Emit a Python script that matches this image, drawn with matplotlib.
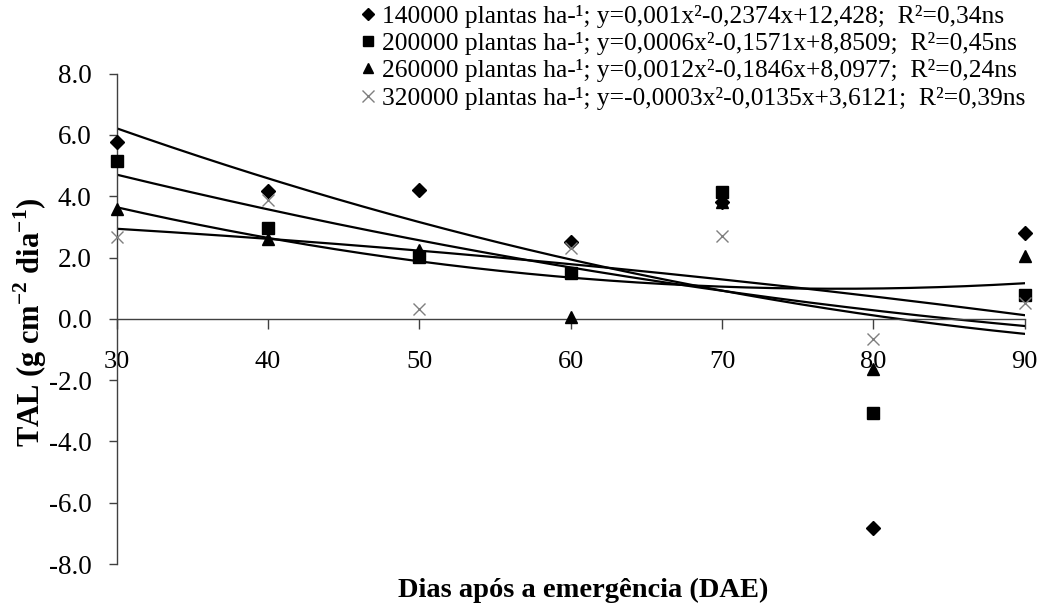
import numpy as np
import matplotlib
matplotlib.use("Agg")
import matplotlib.pyplot as plt
from matplotlib.lines import Line2D

plt.rcParams['font.family'] = ['Liberation Serif', 'DejaVu Serif']
plt.rcParams['mathtext.fontset'] = 'custom'
plt.rcParams['mathtext.rm'] = 'Liberation Serif'
plt.rcParams['mathtext.bf'] = 'Liberation Serif:bold'

# Data
dae = [30, 40, 50, 60, 70, 80, 90]
tal_140 = [5.76, 4.18, 4.21, 2.50, 3.82, -6.82, 2.79]
tal_200 = [5.15, 2.96, 2.03, 1.49, 4.13, -3.06, 0.78]
tal_260 = [3.59, 2.61, 2.25, 0.05, 3.80, -1.64, 2.05]
tal_320 = [2.66, 3.88, 0.32, 2.30, 2.69, -0.66, 0.51]

labels = [
    "140000 plantas ha-¹; y=0,001x²-0,2374x+12,428;  R²=0,34ns",
    "200000 plantas ha-¹; y=0,0006x²-0,1571x+8,8509;  R²=0,45ns",
    "260000 plantas ha-¹; y=0,0012x²-0,1846x+8,0977;  R²=0,24ns",
    "320000 plantas ha-¹; y=-0,0003x²-0,0135x+3,6121;  R²=0,39ns",
]
y_ticks = [-8, -6, -4, -2, 0, 2, 4, 6, 8]
x_ticks = [30, 40, 50, 60, 70, 80, 90]

series = [tal_140, tal_200, tal_260, tal_320]
markers = ['D', 's', '^', 'x']
msizes = [7, 9, 9, 9]
mcolors = ['black', 'black', 'black', '#7f7f7f']

fig = plt.figure(figsize=(10.39, 6.04), dpi=100)
ax = fig.add_axes([116.7/1039, 1-564/604, (1024.7-116.7)/1039, (564-73.7)/604])

xs = np.linspace(30, 90, 200)
handles = []
for ys in series:
    coef = np.polyfit(dae, ys, 2)
    ax.plot(xs, np.polyval(coef, xs), color='black', lw=1.6, zorder=2)
for ys, m, ms, c in zip(series, markers, msizes, mcolors):
    if m == 'x':
        ax.plot(dae, ys, linestyle='none', marker=m, ms=ms, color=c, mew=1.0, clip_on=False, zorder=3)
        handles.append(Line2D([], [], linestyle='none', marker=m, ms=8, color=c, mew=1.0))
    else:
        ax.plot(dae, ys, linestyle='none', marker=m, ms=ms, color=c, mec=c, clip_on=False, zorder=3)
        handles.append(Line2D([], [], linestyle='none', marker=m, ms=ms*0.85, color=c))

ax.set_xlim(30, 90)
ax.set_ylim(-8, 8)
ax.spines['right'].set_visible(False)
ax.spines['top'].set_visible(False)
ax.spines['bottom'].set_position(('data', 0))
for s in ('left', 'bottom'):
    ax.spines[s].set_color('#404040')
    ax.spines[s].set_linewidth(1.0)
ax.set_yticks(y_ticks)
ax.set_yticklabels([f"{v:.1f}" for v in y_ticks], fontsize=19.5)
ax.set_xticks(x_ticks)
ax.set_xticklabels([str(v) for v in x_ticks], fontsize=19)
ax.tick_params(axis='y', direction='out', length=6, width=1.0, color='#404040', pad=12)
ax.tick_params(axis='x', direction='out', length=7, width=1.0, color='#404040', pad=16)

fig.text(30/1039, 1-322/604, r"TAL (g cm$^{\mathbf{-2}}$ dia$^{\mathbf{-1}}$)", rotation=90,
         ha='center', va='center', fontsize=22, fontweight='bold')
fig.text(583/1039, 1-590/604, "Dias após a emergência (DAE)", ha='center', va='center',
         fontsize=20.5, fontweight='bold')

leg = fig.legend(handles, labels, loc='upper left', bbox_to_anchor=(362/1039, 1-5/604),
                 frameon=False, fontsize=18.4, handlelength=0.5, handletextpad=0.3,
                 labelspacing=0.165, borderpad=0, borderaxespad=0)

fig.savefig("out.png", dpi=100)
